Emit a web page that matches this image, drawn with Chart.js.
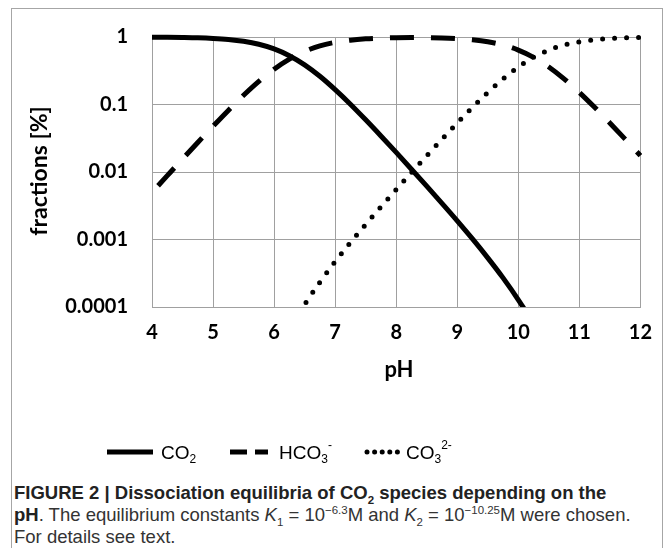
<!DOCTYPE html>
<html>
<head>
<meta charset="utf-8">
<script src="https://cdn.jsdelivr.net/npm/chart.js@4.4.1/dist/chart.umd.min.js"></script>
<style>
  html, body { margin: 0; padding: 0; background: #fff; }
  #page { position: relative; width: 666px; height: 548px; overflow: hidden; }
  #frame { position: absolute; left: 11px; top: 8px; width: 650px; height: 600px; border: 1px solid #a6a6a6; border-bottom: none; }
  #chartBox { position: absolute; left: 0; top: 0; width: 666px; height: 475px; }
  #caption { position: absolute; left: 14px; top: 482px; font-family: "Liberation Sans", Arial, sans-serif; font-size: 18.5px; line-height: 22px; color: #333; white-space: nowrap; }
  #caption sub, #caption sup { font-size: 0.62em; line-height: 0; }
  #caption b { color: #222; }
</style>
</head>
<body>
<div id="page">
  <div id="frame"></div>
  <div id="chartBox"><canvas id="chart" width="666" height="475"></canvas></div>
  <div id="caption">
    <b>FIGURE 2 | Dissociation equilibria of CO<sub>2</sub> species depending on the</b><br>
    <b>pH</b>. The equilibrium constants <i>K</i><sub>1</sub> = 10<sup>−6.3</sup>M and <i>K</i><sub>2</sub> = 10<sup>−10.25</sup>M were chosen.<br>
    For details see text.
  </div>
</div>
<script>
const ph = [4, 4.25, 4.5, 4.75, 5, 5.25, 5.5, 5.75, 6, 6.25, 6.5, 6.75, 7, 7.25, 7.5, 7.75, 8,
  8.25, 8.5, 8.75, 9, 9.25, 9.5, 9.75, 10, 10.25, 10.5, 10.75, 11, 11.25, 11.5, 11.75, 12];
const co2 = [0.995, 0.991, 0.984, 0.973, 0.952, 0.918, 0.863, 0.780, 0.666, 0.529, 0.387, 0.262, 0.166,
  0.101, 0.0593, 0.0342, 0.0195, 0.0110, 0.00616, 0.00343, 0.00189, 0.00102, 0.000535, 0.000270,
  0.000128, 0.0000561, 0.0000227, 0.0000085, 0.0000030, 0.0000010, 0.00000034, 0.00000011, 0.000000035];
const hco3 = [0.00499, 0.00883, 0.0156, 0.0274, 0.0477, 0.0818, 0.137, 0.220, 0.334, 0.471, 0.613, 0.738,
  0.833, 0.898, 0.939, 0.963, 0.975, 0.979, 0.976, 0.966, 0.945, 0.908, 0.849, 0.760, 0.640, 0.500,
  0.360, 0.240, 0.151, 0.0909, 0.0532, 0.0307, 0.0175];
const co3 = [2.81e-9, 8.83e-9, 2.77e-8, 8.67e-8, 2.68e-7, 8.18e-7, 2.43e-6, 6.95e-6, 1.88e-5, 4.71e-5,
  1.09e-4, 2.33e-4, 4.69e-4, 8.98e-4, 0.00167, 0.00304, 0.00548, 0.00979, 0.0174, 0.0305, 0.0531,
  0.0908, 0.151, 0.240, 0.360, 0.500, 0.640, 0.760, 0.849, 0.909, 0.947, 0.969, 0.983];
const yTicks = [1, 0.1, 0.01, 0.001, 0.0001];
const yTickLabels = ['1', '0.1', '0.01', '0.001', '0.0001'];
const xTicks = [4, 5, 6, 7, 8, 9, 10, 11, 12];

const tickFont = { family: 'Lato, "Open Sans", sans-serif', weight: 'bold', size: 20 };
const gridColor = '#a0a0a0';

const toPoints = (ys) => ph.map((x, i) => ({ x: x, y: ys[i] }));

const lineStyle = {
  borderColor: '#000',
  borderWidth: 5,
  pointRadius: 0,
  cubicInterpolationMode: 'monotone',
  clip: { left: 4, top: 4, right: 4, bottom: 0 },
};

// axis titles and legend drawn at fixed spots
const decorations = {
  id: 'decorations',
  afterDraw(chart) {
    const c = chart.ctx;
    c.save();
    c.fillStyle = '#000';
    c.font = 'bold 22px Lato, "Open Sans", sans-serif';
    c.textAlign = 'center';
    c.textBaseline = 'middle';
    c.fillText('pH', 399, 370);
    c.translate(40, 171);
    c.rotate(-Math.PI / 2);
    c.font = 'bold 23px Lato, "Open Sans", sans-serif';
    c.fillText('fractions [%]', 0, 0);
    c.restore();

    const y = 452;
    c.save();
    c.strokeStyle = '#000';
    c.lineWidth = 5;
    c.lineCap = 'butt';
    c.beginPath(); c.moveTo(107, y); c.lineTo(153, y); c.stroke();
    c.beginPath(); c.moveTo(230, y); c.lineTo(247, y); c.moveTo(255, y); c.lineTo(268, y); c.stroke();
    c.fillStyle = '#000';
    for (let i = 0; i < 5; i++) {
      c.beginPath(); c.arc(367 + i * 7.6, y, 2.5, 0, Math.PI * 2); c.fill();
    }
    const label = (x, base, sub, sup) => {
      c.font = '19px "Liberation Sans", Arial, sans-serif';
      c.textBaseline = 'alphabetic';
      c.textAlign = 'left';
      c.fillText(base, x, y + 7);
      const w = c.measureText(base).width;
      c.font = '12px "Liberation Sans", Arial, sans-serif';
      c.fillText(sub, x + w, y + 11);
      if (sup) c.fillText(sup, x + w + c.measureText(sub).width, y - 3);
    };
    label(161, 'CO', '2');
    label(279, 'HCO', '3', '-');
    label(406, 'CO', '3', '2-');
    c.restore();
  },
};

new Chart(document.getElementById('chart'), {
  type: 'line',
  data: {
    datasets: [
      { ...lineStyle, label: 'CO2', data: toPoints(co2) },
      { ...lineStyle, label: 'HCO3-', data: toPoints(hco3), borderDash: [24, 17], borderDashOffset: 32, borderCapStyle: 'butt' },
      { ...lineStyle, label: 'CO3 2-', data: toPoints(co3), borderDash: [0, 12], borderCapStyle: 'round' },
    ],
  },
  options: {
    responsive: false,
    animation: false,
    devicePixelRatio: 1,
    layout: { padding: { left: 0, top: 37, right: 20, bottom: 0 } },
    plugins: { legend: { display: false }, tooltip: { enabled: false } },
    scales: {
      x: {
        type: 'linear',
        min: 4,
        max: 12,
        afterBuildTicks: (scale) => { scale.ticks = xTicks.map((v) => ({ value: v })); },
        afterFit: (scale) => { scale.height = 168; },
        ticks: { font: tickFont, color: '#000', padding: 14, maxRotation: 0 },
        grid: { color: gridColor, lineWidth: 1, drawTicks: false },
        border: { color: gridColor },
      },
      y: {
        type: 'logarithmic',
        min: 0.0001,
        max: 1,
        afterBuildTicks: (scale) => { scale.ticks = yTicks.map((v) => ({ value: v })); },
        afterFit: (scale) => { scale.width = 152; },
        ticks: {
          font: tickFont,
          color: '#000',
          padding: 24,
          callback: (v) => yTickLabels[yTicks.indexOf(v)] ?? '',
        },
        grid: { color: gridColor, lineWidth: 1, drawTicks: false },
        border: { color: gridColor },
      },
    },
  },
  plugins: [decorations],
});
</script>
</body>
</html>
